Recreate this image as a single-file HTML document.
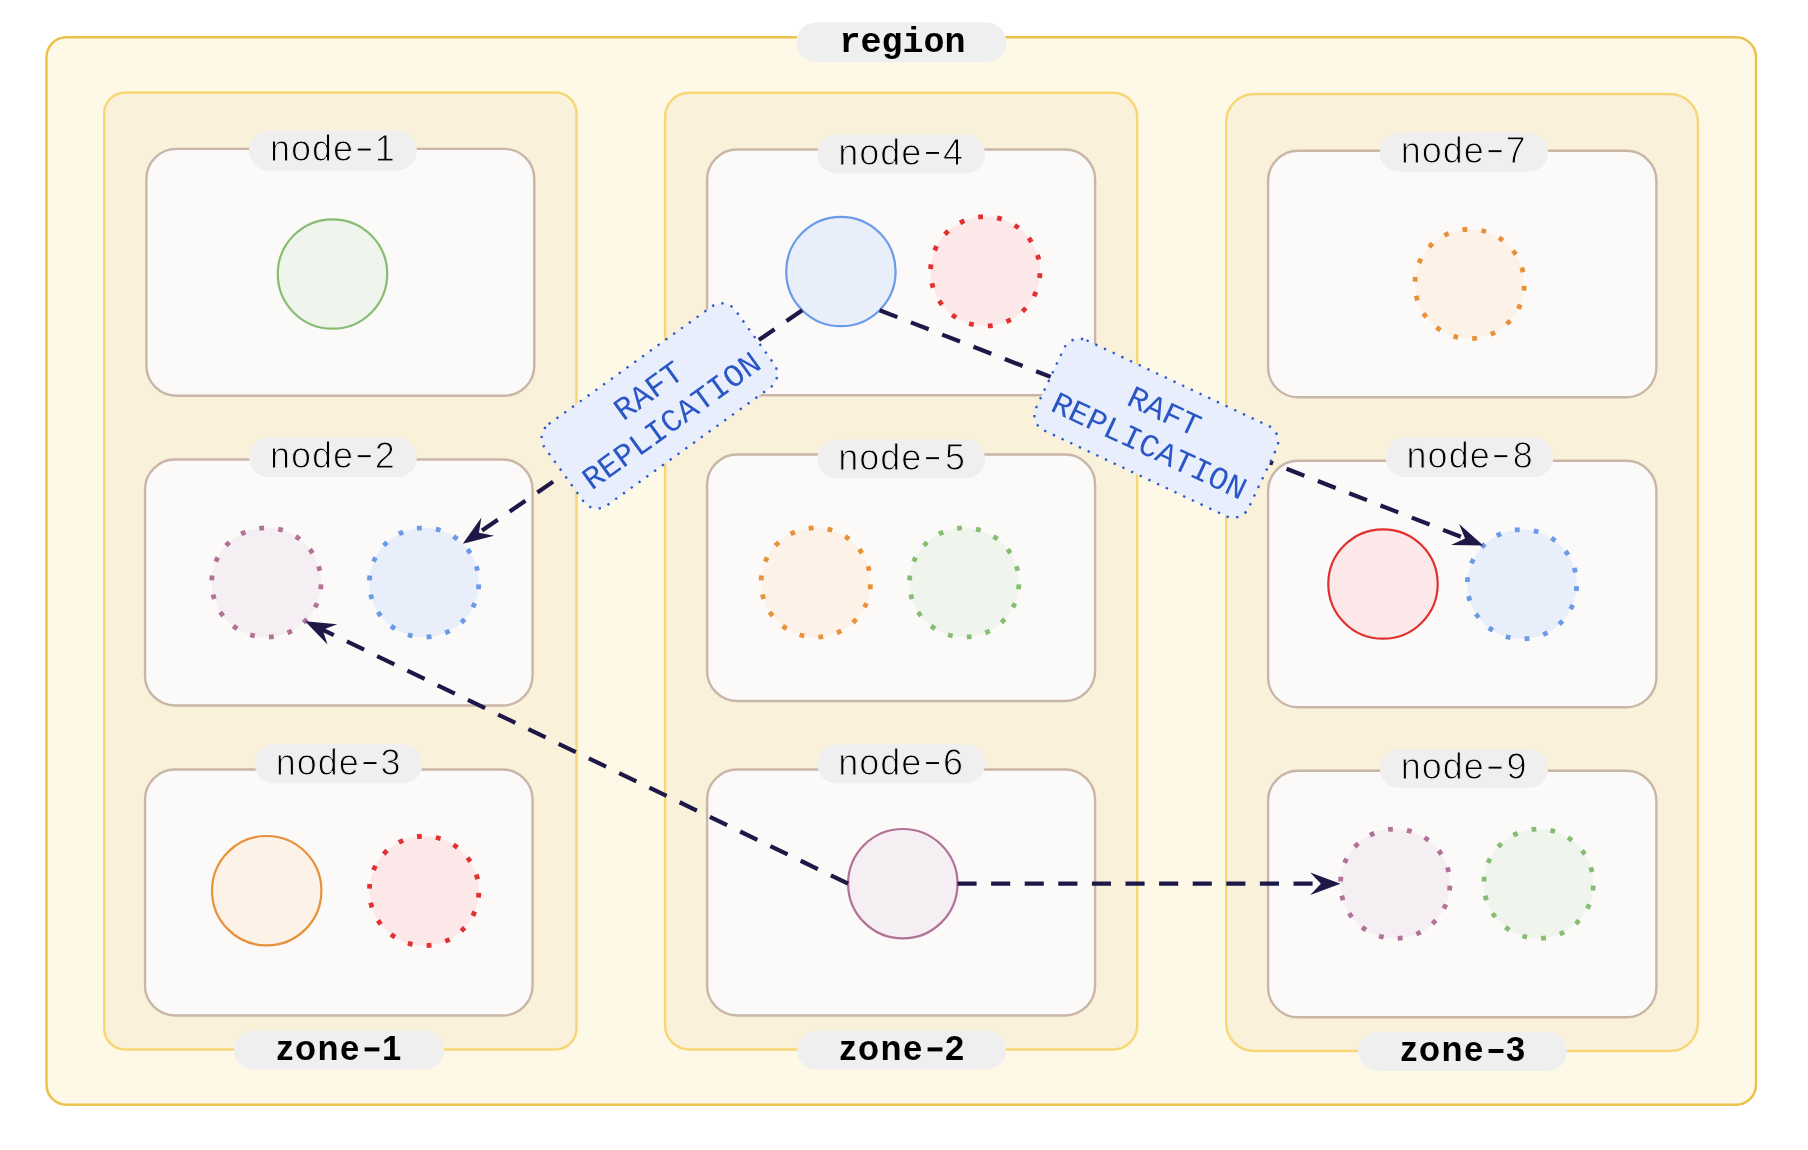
<!DOCTYPE html>
<html><head><meta charset="utf-8"><style>
html,body{margin:0;padding:0;background:#fff;}
body{width:1808px;height:1150px;overflow:hidden;font-family:"Liberation Sans",sans-serif;}
svg{display:block;will-change:transform;}
</style></head><body>
<svg width="1808" height="1150" viewBox="0 0 1808 1150">
<rect x="46.5" y="37.2" width="1709.5" height="1067.6" rx="20" fill="#fef8e7" stroke="#e9c24b" stroke-width="2.5"/>
<rect x="104.2" y="92.5" width="472.3" height="957.0" rx="21" fill="#faf1db" stroke="#f7d675" stroke-width="2.4"/>
<rect x="665.1" y="92.8" width="472.1" height="956.7" rx="24" fill="#faf1db" stroke="#f7d675" stroke-width="2.4"/>
<rect x="1226.2" y="94" width="471.7" height="957" rx="28" fill="#faf1db" stroke="#f7d675" stroke-width="2.4"/>
<rect x="146.4" y="148.9" width="387.9" height="246.8" rx="30" fill="#fbfaf8" stroke="#cab6a8" stroke-width="2.4"/>
<rect x="145" y="459.5" width="387.6" height="246.0" rx="30" fill="#fbfaf8" stroke="#cab6a8" stroke-width="2.4"/>
<rect x="145" y="769.5" width="387.6" height="246.0" rx="30" fill="#fbfaf8" stroke="#cab6a8" stroke-width="2.4"/>
<rect x="707.1" y="149.5" width="388" height="245.8" rx="30" fill="#fbfaf8" stroke="#cab6a8" stroke-width="2.4"/>
<rect x="707.1" y="454.5" width="388" height="246.5" rx="30" fill="#fbfaf8" stroke="#cab6a8" stroke-width="2.4"/>
<rect x="707.1" y="769.5" width="388" height="246.0" rx="30" fill="#fbfaf8" stroke="#cab6a8" stroke-width="2.4"/>
<rect x="1268.1" y="150.8" width="388.3" height="246.5" rx="30" fill="#fbfaf8" stroke="#cab6a8" stroke-width="2.4"/>
<rect x="1268.1" y="460.8" width="388.3" height="246.5" rx="30" fill="#fbfaf8" stroke="#cab6a8" stroke-width="2.4"/>
<rect x="1268.1" y="770.8" width="388.3" height="246.5" rx="30" fill="#fbfaf8" stroke="#cab6a8" stroke-width="2.4"/>
<circle cx="332.5" cy="274" r="54.7" fill="#eff5ec" stroke="#87bd72" stroke-width="2.2"/>
<circle cx="266.4" cy="582.5" r="54.7" fill="#f5eef3" stroke="#b27197" stroke-width="4.8" stroke-dasharray="4.8 14.29" stroke-dashoffset="-2"/>
<circle cx="424.1" cy="582.5" r="54.7" fill="#e8effb" stroke="#6b9be6" stroke-width="4.8" stroke-dasharray="4.8 14.29" stroke-dashoffset="-2"/>
<circle cx="266.7" cy="890.7" r="54.7" fill="#fcf2e7" stroke="#e8903a" stroke-width="2.2"/>
<circle cx="424.1" cy="890.9" r="54.7" fill="#fce8e8" stroke="#e03030" stroke-width="4.8" stroke-dasharray="4.8 14.29" stroke-dashoffset="-2"/>
<circle cx="840.9" cy="271.5" r="54.7" fill="#e8effb" stroke="#6b9be6" stroke-width="2.2"/>
<circle cx="985.3" cy="271.3" r="54.7" fill="#fce8e8" stroke="#e03030" stroke-width="4.8" stroke-dasharray="4.8 14.29" stroke-dashoffset="-2"/>
<circle cx="815.8" cy="582.5" r="54.7" fill="#fcf2e7" stroke="#e8903a" stroke-width="4.8" stroke-dasharray="4.8 14.29" stroke-dashoffset="-2"/>
<circle cx="964.2" cy="582.5" r="54.7" fill="#eff5ec" stroke="#87bd72" stroke-width="4.8" stroke-dasharray="4.8 14.29" stroke-dashoffset="-2"/>
<circle cx="902.8" cy="883.7" r="54.7" fill="#f5eef3" stroke="#b27197" stroke-width="2.2"/>
<circle cx="1469.6" cy="283.9" r="54.7" fill="#fcf2e7" stroke="#e8903a" stroke-width="4.8" stroke-dasharray="4.8 14.29" stroke-dashoffset="-2"/>
<circle cx="1383" cy="584" r="54.7" fill="#fce8e8" stroke="#e03030" stroke-width="2.2"/>
<circle cx="1522" cy="584.2" r="54.7" fill="#e8effb" stroke="#6b9be6" stroke-width="4.8" stroke-dasharray="4.8 14.29" stroke-dashoffset="-2"/>
<circle cx="1395.2" cy="883.7" r="54.7" fill="#f5eef3" stroke="#b27197" stroke-width="4.8" stroke-dasharray="4.8 14.29" stroke-dashoffset="-2"/>
<circle cx="1538.6" cy="883.7" r="54.7" fill="#eff5ec" stroke="#87bd72" stroke-width="4.8" stroke-dasharray="4.8 14.29" stroke-dashoffset="-2"/>
<line x1="802.22" y1="310.18" x2="469.37" y2="539.29" stroke="#1d1848" stroke-width="4.2" stroke-dasharray="19.1 14.5"/>
<polygon points="462.78,543.82 481.39,517.42 478.92,532.71 494.09,535.87" fill="#1d1848"/>
<line x1="879.58" y1="310.18" x2="1475.87" y2="542.62" stroke="#1d1848" stroke-width="4.2" stroke-dasharray="19.1 14.5"/>
<polygon points="1483.32,545.52 1451.02,544.95 1465.06,538.40 1459.16,524.08" fill="#1d1848"/>
<line x1="848.10" y1="883.70" x2="312.28" y2="624.66" stroke="#1d1848" stroke-width="4.2" stroke-dasharray="19.1 14.5"/>
<polygon points="305.08,621.18 337.23,624.28 322.72,629.71 327.48,644.45" fill="#1d1848"/>
<line x1="957.50" y1="883.70" x2="1332.50" y2="883.70" stroke="#1d1848" stroke-width="4.2" stroke-dasharray="19.1 14.5"/>
<polygon points="1340.50,883.70 1310.20,894.90 1320.90,883.70 1310.20,872.50" fill="#1d1848"/>
<g transform="translate(659.45,405.9) rotate(-35.8)">
<rect x="-117.5" y="-50.0" width="235" height="100" rx="17" fill="#e8eefb" stroke="#2756c8" stroke-width="2.3" stroke-dasharray="2.3 7.3"/>
<text x="0" y="-8.5" text-anchor="middle" font-family="Liberation Mono" font-size="32" fill="#2a56c6">RAFT</text>
<text x="1" y="29.3" text-anchor="middle" font-family="Liberation Mono" font-size="32" fill="#2a56c6">REPLICATION</text>
</g>
<g transform="translate(1156.3,428.2) rotate(25.2)">
<rect x="-117.5" y="-49.85" width="235" height="99.7" rx="17" fill="#e8eefb" stroke="#2756c8" stroke-width="2.3" stroke-dasharray="2.3 7.3"/>
<text x="0" y="-8.5" text-anchor="middle" font-family="Liberation Mono" font-size="32" fill="#2a56c6">RAFT</text>
<text x="1" y="29.3" text-anchor="middle" font-family="Liberation Mono" font-size="32" fill="#2a56c6">REPLICATION</text>
</g>
<rect x="796.3" y="22.4" width="210.1" height="39.5" rx="19.75" fill="#efefef"/>
<text x="902.5" y="52.2" text-anchor="middle" font-family="Liberation Mono" font-weight="bold" font-size="35" fill="#000">region</text>
<rect x="234" y="1030.4" width="210" height="39.1" rx="19.55" fill="#efefef"/>
<text x="276.2" y="1059.8" font-family="Liberation Sans" font-weight="bold" font-size="34.5" letter-spacing="1.5" fill="#000">zone</text>
<rect x="364.6" y="1047.4" width="14.8" height="4.0" fill="#000"/>
<text x="391.5" y="1059.8" text-anchor="middle" font-family="Liberation Sans" font-weight="bold" font-size="34.5" fill="#000">1</text>
<rect x="797" y="1030.4" width="209" height="39.1" rx="19.55" fill="#efefef"/>
<text x="839.2" y="1059.8" font-family="Liberation Sans" font-weight="bold" font-size="34.5" letter-spacing="1.5" fill="#000">zone</text>
<rect x="927.6" y="1047.4" width="14.8" height="4.0" fill="#000"/>
<text x="954.5" y="1059.8" text-anchor="middle" font-family="Liberation Sans" font-weight="bold" font-size="34.5" fill="#000">2</text>
<rect x="1358" y="1032" width="209" height="39" rx="19.5" fill="#efefef"/>
<text x="1400.2" y="1061.4" font-family="Liberation Sans" font-weight="bold" font-size="34.5" letter-spacing="1.5" fill="#000">zone</text>
<rect x="1488.6" y="1049.0" width="14.8" height="4.0" fill="#000"/>
<text x="1515.5" y="1061.4" text-anchor="middle" font-family="Liberation Sans" font-weight="bold" font-size="34.5" fill="#000">3</text>
<rect x="249" y="131" width="168" height="39.4" rx="19.7" fill="#efefef"/>
<text x="270.0" y="161.1" font-family="Liberation Sans" font-size="36" letter-spacing="1.0" fill="#000" stroke="#efefef" stroke-width="1.0">node</text>
<rect x="357.8" y="148.6" width="12.9" height="1.9" fill="#000"/>
<text x="384.7" y="161.1" text-anchor="middle" font-family="Liberation Sans" font-size="36" fill="#000" stroke="#efefef" stroke-width="1.0">1</text>
<rect x="249" y="437.6" width="168" height="39.5" rx="19.75" fill="#efefef"/>
<text x="270.0" y="467.7" font-family="Liberation Sans" font-size="36" letter-spacing="1.0" fill="#000" stroke="#efefef" stroke-width="1.0">node</text>
<rect x="357.8" y="455.2" width="12.9" height="1.9" fill="#000"/>
<text x="384.7" y="467.7" text-anchor="middle" font-family="Liberation Sans" font-size="36" fill="#000" stroke="#efefef" stroke-width="1.0">2</text>
<rect x="254.8" y="744.5" width="167.6" height="39.1" rx="19.55" fill="#efefef"/>
<text x="275.8" y="774.6" font-family="Liberation Sans" font-size="36" letter-spacing="1.0" fill="#000" stroke="#efefef" stroke-width="1.0">node</text>
<rect x="363.6" y="762.1" width="12.9" height="1.9" fill="#000"/>
<text x="390.5" y="774.6" text-anchor="middle" font-family="Liberation Sans" font-size="36" fill="#000" stroke="#efefef" stroke-width="1.0">3</text>
<rect x="817.3" y="134.4" width="167.7" height="39.0" rx="19.5" fill="#efefef"/>
<text x="838.3" y="164.5" font-family="Liberation Sans" font-size="36" letter-spacing="1.0" fill="#000" stroke="#efefef" stroke-width="1.0">node</text>
<rect x="926.1" y="152.0" width="12.9" height="1.9" fill="#000"/>
<text x="953.0" y="164.5" text-anchor="middle" font-family="Liberation Sans" font-size="36" fill="#000" stroke="#efefef" stroke-width="1.0">4</text>
<rect x="817.3" y="439.6" width="167.7" height="38.8" rx="19.4" fill="#efefef"/>
<text x="838.3" y="469.7" font-family="Liberation Sans" font-size="36" letter-spacing="1.0" fill="#000" stroke="#efefef" stroke-width="1.0">node</text>
<rect x="926.1" y="457.2" width="12.9" height="1.9" fill="#000"/>
<text x="955.0" y="469.7" text-anchor="middle" font-family="Liberation Sans" font-size="36" fill="#000" stroke="#efefef" stroke-width="1.0">5</text>
<rect x="817.3" y="744.5" width="167.7" height="39.1" rx="19.55" fill="#efefef"/>
<text x="838.3" y="774.6" font-family="Liberation Sans" font-size="36" letter-spacing="1.0" fill="#000" stroke="#efefef" stroke-width="1.0">node</text>
<rect x="926.1" y="762.1" width="12.9" height="1.9" fill="#000"/>
<text x="953.0" y="774.6" text-anchor="middle" font-family="Liberation Sans" font-size="36" fill="#000" stroke="#efefef" stroke-width="1.0">6</text>
<rect x="1379.8" y="132.6" width="168.2" height="39.1" rx="19.55" fill="#efefef"/>
<text x="1400.8" y="162.7" font-family="Liberation Sans" font-size="36" letter-spacing="1.0" fill="#000" stroke="#efefef" stroke-width="1.0">node</text>
<rect x="1488.6" y="150.2" width="12.9" height="1.9" fill="#000"/>
<text x="1515.5" y="162.7" text-anchor="middle" font-family="Liberation Sans" font-size="36" fill="#000" stroke="#efefef" stroke-width="1.0">7</text>
<rect x="1385.6" y="437.6" width="167.7" height="39.5" rx="19.75" fill="#efefef"/>
<text x="1406.6" y="467.7" font-family="Liberation Sans" font-size="36" letter-spacing="1.0" fill="#000" stroke="#efefef" stroke-width="1.0">node</text>
<rect x="1494.4" y="455.2" width="12.9" height="1.9" fill="#000"/>
<text x="1522.8" y="467.7" text-anchor="middle" font-family="Liberation Sans" font-size="36" fill="#000" stroke="#efefef" stroke-width="1.0">8</text>
<rect x="1379.8" y="749.1" width="168.2" height="38.8" rx="19.4" fill="#efefef"/>
<text x="1400.8" y="779.2" font-family="Liberation Sans" font-size="36" letter-spacing="1.0" fill="#000" stroke="#efefef" stroke-width="1.0">node</text>
<rect x="1488.6" y="766.7" width="12.9" height="1.9" fill="#000"/>
<text x="1516.5" y="779.2" text-anchor="middle" font-family="Liberation Sans" font-size="36" fill="#000" stroke="#efefef" stroke-width="1.0">9</text>
</svg>
</body></html>
